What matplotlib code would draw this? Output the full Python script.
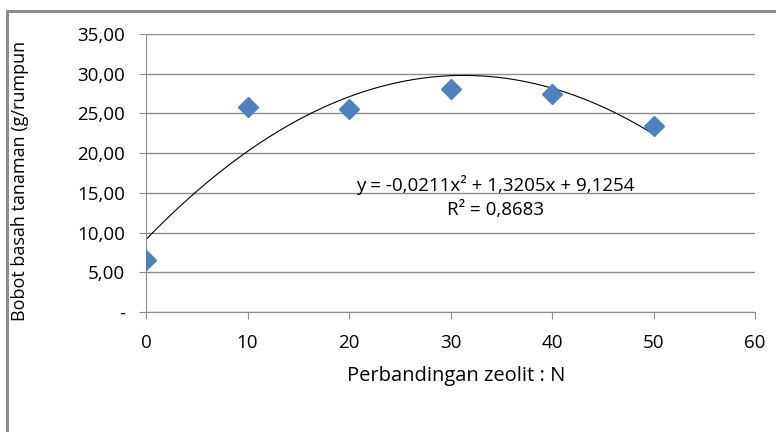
import matplotlib.pyplot as plt
import numpy as np
from matplotlib.patches import Rectangle

plt.rcParams['font.family'] = ['Open Sans', 'DejaVu Sans']

# data
zeolit = [0, 10, 20, 30, 40, 50]
bobot = [6.5, 25.8, 25.6, 28.1, 27.5, 23.4]
# trend line coefficients shown on the chart
coef = [-0.0211, 1.3205, 9.1254]
r2 = 0.8683

y_ticks = [0, 5, 10, 15, 20, 25, 30, 35]
y_labels = ['-', '5,00', '10,00', '15,00', '20,00', '25,00', '30,00', '35,00']
x_ticks = [0, 10, 20, 30, 40, 50, 60]

fig = plt.figure(figsize=(7.76, 4.32), dpi=100)
# outer chart border (only left and top visible in the crop)
fig.patches.append(Rectangle((7 / 776, -0.1), 1.2, 1 - 11 / 432 + 0.1,
                             transform=fig.transFigure, fill=False,
                             edgecolor='#8c8c8c', linewidth=2.2))

ax = fig.add_axes([146 / 776, 1 - 312 / 432, 609 / 776, 278 / 432])

xs = np.linspace(0, 50, 200)
ax.plot(xs, np.polyval(coef, xs), color='black', linewidth=0.8, zorder=2)
ax.plot(zeolit, bobot, linestyle='none', marker='D', markersize=10,
        color='#4f81bd', zorder=3)

ax.set_xlim(0, 60)
ax.set_ylim(0, 35)
ax.set_xticks(x_ticks)
ax.set_yticks(y_ticks)
ax.set_yticklabels(y_labels)
ax.grid(axis='y', color='#8c8c8c', linewidth=1)
ax.set_axisbelow(True)
for s in ['top', 'right']:
    ax.spines[s].set_visible(False)
for s in ['left', 'bottom']:
    ax.spines[s].set_color('#8c8c8c')
ax.tick_params(colors='#8c8c8c', labelcolor='black', labelsize=13.5, length=5)
ax.tick_params(axis='x', pad=11)
ax.tick_params(axis='y', pad=10)

ax.set_xlabel('Perbandingan zeolit : N', fontsize=14.5)
ax.xaxis.set_label_coords(0.509, -0.194)
ax.set_ylabel('Bobot basah tanaman (g/rumpun', fontsize=13)
ax.yaxis.set_label_coords(-0.192, 0.471)

eq = 'y = {:.4f}x² + {:.4f}x + {:.4f}'.format(coef[0], coef[1], coef[2]).replace('.', ',')
ax.text(34.4, 16.0, eq, ha='center', va='center', fontsize=13.5)
ax.text(34.4, 12.9, 'R² = ' + '{:.4f}'.format(r2).replace('.', ','),
        ha='center', va='center', fontsize=13.5)

fig.savefig('out.png', dpi=100)
